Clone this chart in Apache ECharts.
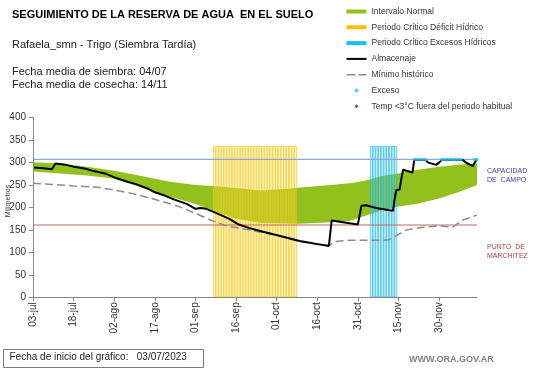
<!DOCTYPE html>
<html><head><meta charset="utf-8">
<script src="https://cdn.jsdelivr.net/npm/echarts@6/dist/echarts.min.js"></script>
<style>html,body{margin:0;padding:0;background:#fff}#c{width:541px;height:368px}</style>
</head><body><div id="c"></div>
<script>
// ---- data (day index 0 = 03-jul-2023) ----
const xTickLabels = ['03-jul','18-jul','02-ago','17-ago','01-sep','16-sep','01-oct','16-oct','31-oct','15-nov','30-nov'];
const xTickDays = [0,15,30,45,60,75,90,105,120,135,150];
const lastDay = 164;
const capacidadCampo = 307;
const puntoMarchitez = 161;

const bandDays  = [0,10,20,30,40,50,60,66,74,84,90,98,110,117,123,129,135,141,150,157,164];
const bandUpper = [301,298,291,282,270,258,250,248,244,238,240,244,250,254,260,270,276,283,291,295,298];
const bandLower = [280,276,271,264,245,225,208,195,176,166,165,164,167,170,182,194,202,207,220,234,250];

const almacenaje = [[0,289],[3,288],[7,285],[7.6,286],[8.3,298],[12,295],[15,291],[19,287],[22,282],[27,275],[31,265],[34.6,258],[38,252],[42,243],[45,234],[48,228],[52,218],[56.8,208],[60,197],[62,199],[64,197],[68,187],[72.7,174],[76,162],[80,154],[85,146],[91,137],[98.5,125.5],[104.7,119],[109.3,114.5],[110.3,171],[111,172],[115.7,166],[120,162],[121.3,204],[123,205],[126.8,199],[131.7,194],[133,193],[133.5,216],[134.2,239],[135.4,240],[136,262],[136.7,284],[137.3,285],[140.2,278],[140.8,306],[145,306],[146,300],[148.9,295],[150,300],[151,306],[158.7,306],[160,300],[162.4,292],[163.7,305],[164,306]];

const minimoHistorico = [[0,254],[6,252],[15,248],[24,245],[30,239],[36,232],[42,223],[48,213],[54,202],[60,187],[66,171],[72,158],[79,151],[85,144],[91,136],[98.5,124],[104.7,118],[108,116],[109.5,116],[111.5,124],[117,127],[129,127],[131.5,128],[137.8,150],[144,156],[150,159],[155,156],[158.7,172],[164,183]];

const excesoDays = [141,142,143,144,145,151,152,153,154,155,156,157,158,163,164];
const excesoValue = 307;
const deficitPeriod = [67, 97];
const excesosPeriod = [125, 134];
const periodHeight = 337;

// ---- build series data ----
function periodBars(p){ const a=[]; for(let d=p[0]; d<=p[1]; d++) a.push([d, periodHeight]); return a; }
const excesoPts = excesoDays.map(d=>[d, excesoValue]);

const FONT = 'Liberation Sans, Arial, sans-serif';
const GREEN = '#92c11e';
const chart = echarts.init(document.getElementById('c'), null, {renderer:'canvas'});
chart.setOption({
  animation:false,
  backgroundColor:'#fff',
  textStyle:{fontFamily:FONT},
  grid:{left:33, right:64, top:117.7, bottom:70.7, outerBoundsMode:'none'},
  legend:{
    orient:'vertical', left:346.5, top:6.5, padding:0, itemWidth:20, itemHeight:4, itemGap:5.8,
    textStyle:{fontSize:8.5, color:'#333', lineHeight:10, fontFamily:FONT},
    selectedMode:false,
    data:[
      {name:'Intervalo Normal', icon:'rect', itemStyle:{color:GREEN}},
      {name:'Periodo Crítico Déficit Hídrico', icon:'rect', itemStyle:{color:'#ffc000', borderWidth:0}},
      {name:'Periodo Crítico Excesos Hídricos', icon:'rect', itemStyle:{color:'#1fc0ef', borderWidth:0}},
      {name:'Almacenaje', icon:'path://M0,0H20V2H0Z', itemStyle:{color:'#000', borderWidth:0}},
      {name:'Mínimo histórico', icon:'path://M0,0H9V1.6H0Z M12,0H20V1.6H12Z', itemStyle:{color:'#8c8c8c', borderWidth:0}},
      {name:'Exceso', icon:'circle', itemStyle:{color:'#2cc6f2'}},
      {name:'Temp <3°C fuera del periodo habitual', icon:'path://M0,-2.5L2.5,0L0,2.5L-2.5,0Z', itemStyle:{color:'#1f2aa8'}}
    ]
  },
  xAxis:{
    type:'value', min:0, max:lastDay, interval:15, z:10,
    splitLine:{show:false},
    axisLine:{lineStyle:{color:'#868686'}},
    axisTick:{length:4, lineStyle:{color:'#868686'}, customValues:xTickDays},
    axisLabel:{rotate:90, fontSize:10, color:'#333', margin:5, customValues:xTickDays,
      formatter:v=>{const i=xTickDays.indexOf(v); return i>=0?xTickLabels[i]:'';}}
  },
  yAxis:{
    type:'value', min:0, max:400, interval:50, z:10,
    splitLine:{show:false},
    axisLine:{show:true, lineStyle:{color:'#868686'}},
    axisTick:{show:true, length:4, lineStyle:{color:'#868686'}},
    axisLabel:{fontSize:10, color:'#333', margin:7}
  },
  series:[
    {name:'Intervalo Normal', type:'custom', data:[[0, bandUpper[0]]], z:1, silent:true, clip:true,
      renderItem:(params, api)=>{
        const pts = bandDays.map((d,i)=>api.coord([d, bandUpper[i]]));
        for(let i=bandDays.length-1;i>=0;i--) pts.push(api.coord([bandDays[i], bandLower[i]]));
        return {type:'polygon', shape:{points:pts}, style:{fill:GREEN}};
      }},
    {name:'Periodo Crítico Déficit Hídrico', type:'bar', data:periodBars(deficitPeriod), barWidth:2.7, barGap:'-100%',
      itemStyle:{color:'rgba(255,232,120,0.25)', borderColor:'rgba(242,200,20,0.95)', borderWidth:0.7}, z:2},
    {name:'Periodo Crítico Excesos Hídricos', type:'bar', data:periodBars(excesosPeriod), barWidth:2.7, barGap:'-100%',
      itemStyle:{color:'rgba(130,215,240,0.22)', borderColor:'rgba(30,185,225,0.95)', borderWidth:0.7}, z:2},
    {name:'Capacidad de campo', type:'line', data:[[0,capacidadCampo],[lastDay,capacidadCampo]], symbol:'none',
      lineStyle:{color:'#8ea6d6', width:1.2}, z:3, silent:true},
    {name:'Punto de marchitez', type:'line', data:[[0,puntoMarchitez],[lastDay,puntoMarchitez]], symbol:'none',
      lineStyle:{color:'#c86464', width:1.2}, z:3, silent:true},
    {name:'Mínimo histórico', type:'line', data:minimoHistorico, symbol:'none',
      lineStyle:{color:'#8c8c8c', width:1.5, type:[8,4]}, itemStyle:{color:'#8c8c8c'}, z:4},
    {name:'Almacenaje', type:'line', data:almacenaje, symbol:'none',
      lineStyle:{color:'#000', width:2}, itemStyle:{color:'#000'}, z:5},
    {name:'Exceso', type:'scatter', data:excesoPts, symbol:'circle', symbolSize:3.5,
      itemStyle:{color:'#2cc6f2'}, z:6},
    {name:'Temp <3°C fuera del periodo habitual', type:'scatter', data:[], symbol:'diamond',
      itemStyle:{color:'#1f2aa8'}, z:6}
  ],
  graphic:[
    {type:'text', left:12, top:9, style:{text:'SEGUIMIENTO DE LA RESERVA DE AGUA  EN EL SUELO', font:'bold 11px '+FONT, fill:'#000'}},
    {type:'text', left:12, top:39.5, style:{text:'Rafaela_smn - Trigo (Siembra Tardía)', font:'11px '+FONT, fill:'#222'}},
    {type:'text', left:12, top:66.5, style:{text:'Fecha media de siembra: 04/07', font:'11px '+FONT, fill:'#222'}},
    {type:'text', left:12, top:79, style:{text:'Fecha media de cosecha: 14/11', font:'11px '+FONT, fill:'#222'}},
    {type:'text', x:8, y:201, rotation:Math.PI/2, style:{text:'Milímetros', font:'7px '+FONT, fill:'#333', align:'center', verticalAlign:'middle'}},
    {type:'text', left:487, top:166, style:{text:'CAPACIDAD\nDE  CAMPO', font:'7px '+FONT, fill:'#3a3f9e', lineHeight:9.5}},
    {type:'text', left:487, top:242.5, style:{text:'PUNTO  DE\nMARCHITEZ', font:'7px '+FONT, fill:'#b0403a', lineHeight:9}},
    {type:'rect', shape:{x:3.5, y:349.5, width:200, height:18}, style:{fill:'#fff', stroke:'#8c7474', lineWidth:1}},
    {type:'text', left:9.5, top:352, style:{text:'Fecha de inicio del gráfico:   03/07/2023', font:'10px '+FONT, fill:'#222'}},
    {type:'text', left:409, top:355, style:{text:'WWW.ORA.GOV.AR', font:'bold 9px '+FONT, fill:'#7f7f7f'}}
  ]
});
</script></body></html>
